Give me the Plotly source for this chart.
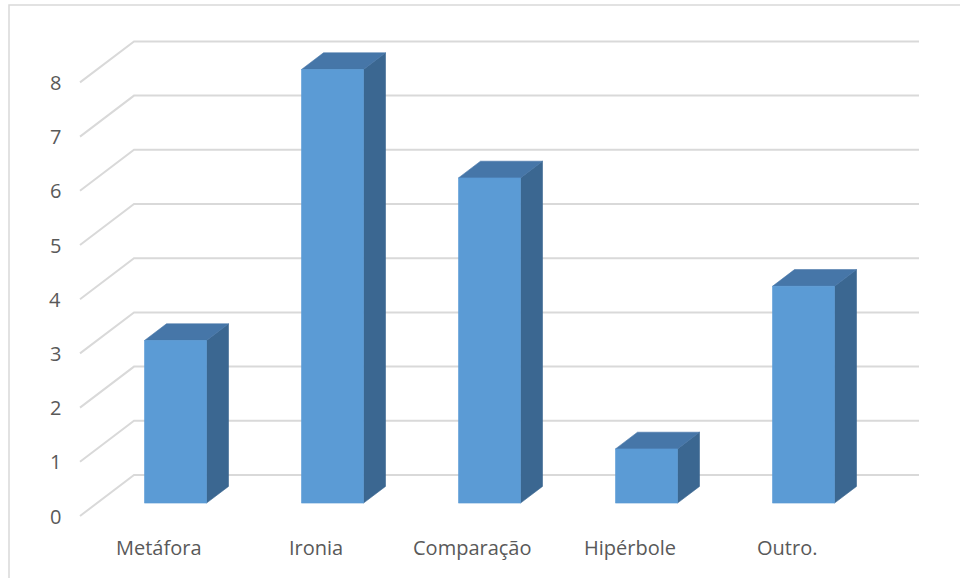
import plotly.graph_objects as go

# Chart data
categories = ["Metáfora", "Ironia", "Comparação", "Hipérbole", "Outro."]
values = [3, 8, 6, 1, 4]
y_ticks = [0, 1, 2, 3, 4, 5, 6, 7, 8]

# Oblique 3D projection: depth fraction d in [0, 1] shifts points right/up
DX = 0.344      # full wall depth, in category units
DY = 0.7565     # full wall depth, in value units
BAR_W = 0.395   # bar width, category units
D0, D1 = 0.315, 0.722  # bar front/back depth fractions
X_LEFT, X_RIGHT = -0.5, len(categories) - 0.5

FRONT = "#5B9BD5"
TOP = "#4676A8"
SIDE = "#3B6791"
GRID = "#D9D9D9"
TEXT = "#595959"
FONT = "Open Sans"


def proj(x, v, d):
    return x + d * DX, v + d * DY


def poly(points, color):
    xs, ys = zip(*(proj(*p) for p in points))
    return go.Scatter(
        x=list(xs) + [xs[0]], y=list(ys) + [ys[0]],
        mode="lines", fill="toself", fillcolor=color,
        line=dict(color=color, width=0.6),
        hoverinfo="skip", showlegend=False,
    )


fig = go.Figure()

# Gridlines: diagonal along the floor-side, then across the back wall
for v in y_ticks:
    pts = [proj(X_LEFT, v, 0), proj(X_LEFT, v, 1), proj(X_RIGHT, v, 1)]
    fig.add_trace(go.Scatter(
        x=[p[0] for p in pts], y=[p[1] for p in pts],
        mode="lines", line=dict(color=GRID, width=2),
        hoverinfo="skip", showlegend=False,
    ))

# Bars as three visible faces
for i, v in enumerate(values):
    xl, xr = i - BAR_W / 2, i + BAR_W / 2
    fig.add_trace(poly([(xr, 0, D0), (xr, v, D0), (xr, v, D1), (xr, 0, D1)], SIDE))
    fig.add_trace(poly([(xl, v, D0), (xr, v, D0), (xr, v, D1), (xl, v, D1)], TOP))
    fig.add_trace(poly([(xl, 0, D0), (xr, 0, D0), (xr, v, D0), (xl, v, D0)], FRONT))

annotations = []
# Value labels on the front plane
for v in y_ticks:
    annotations.append(dict(
        x=-0.659, y=v, xref="x", yref="y", text=str(v), showarrow=False,
        xanchor="center", yanchor="middle",
        font=dict(family=FONT, size=20, color=TEXT),
    ))
# Category labels below the floor's front edge
for i, c in enumerate(categories):
    annotations.append(dict(
        x=i, y=-0.572, xref="x", yref="y", text=c, showarrow=False,
        xanchor="center", yanchor="middle",
        font=dict(family=FONT, size=20, color=TEXT),
    ))

fig.update_layout(
    width=960, height=578,
    margin=dict(l=0, r=0, t=0, b=0),
    paper_bgcolor="white", plot_bgcolor="white",
    xaxis=dict(range=[-158.5 / 157, (960 - 158.5) / 157], visible=False, fixedrange=True),
    yaxis=dict(range=[(516 - 578) / 54.2, 516 / 54.2], visible=False, fixedrange=True),
    annotations=annotations,
    shapes=[dict(
        type="rect", xref="paper", yref="paper",
        x0=9 / 960, x1=1.05, y0=-0.05, y1=1 - 5 / 578,
        line=dict(color=GRID, width=1.5), layer="below",
    )],
)

fig.write_html("out.html")
